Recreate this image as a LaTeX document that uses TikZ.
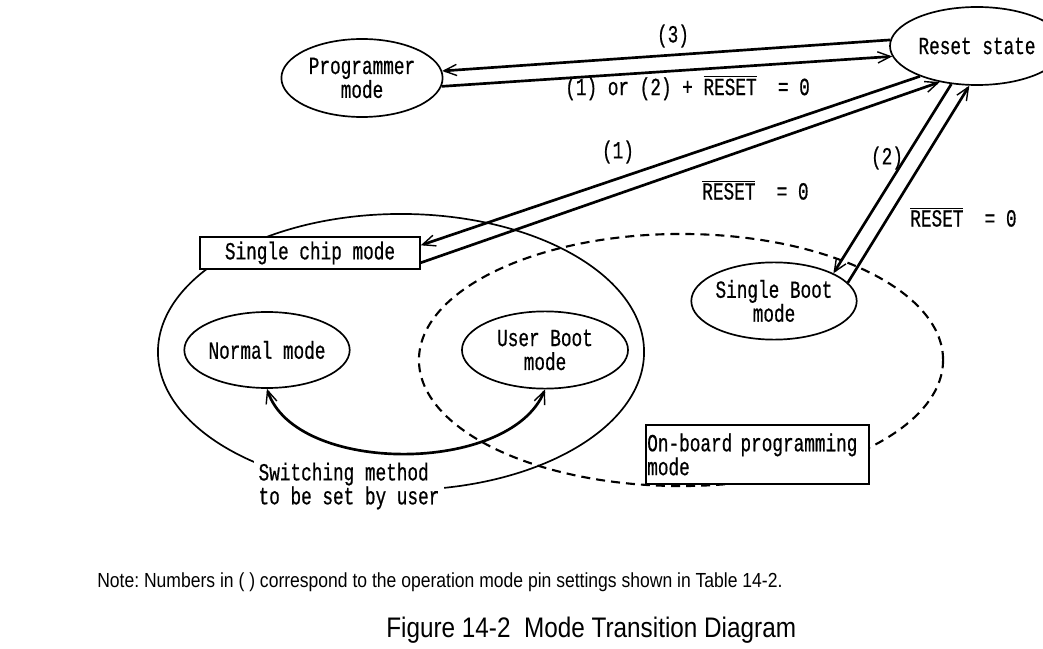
\documentclass[tikz,border=0pt]{standalone}
\usepackage{fontspec}
\setmainfont{Liberation Sans}
\newfontfamily\gothicfont[FakeStretch=0.72,FakeBold=0.6]{Liberation Mono}
\newfontfamily\narrowsans[FakeStretch=0.86]{Liberation Sans}
\usetikzlibrary{arrows.meta,shapes.geometric}
\newcommand\resetbar{$\overline{\hbox{RESET}}$}
\frenchspacing

\begin{document}
\begin{tikzpicture}[x=0.025cm,y=-0.025cm,>={Straight Barb[length=3.2mm,width=2.8mm,line width=1pt]},
  mode/.style={draw,ellipse,line width=1.2pt,inner sep=0pt,align=center,font=\gothicfont\fontsize{17.5}{17}\selectfont},
  zone/.style={draw,ellipse,inner sep=0pt},
  tag/.style={draw,fill=white,line width=1.2pt,inner sep=1pt,font=\gothicfont\fontsize{17.5}{17}\selectfont},
  lbl/.style={inner sep=0pt,font=\gothicfont\fontsize{17.5}{17}\selectfont},
  trans/.style={->,line width=1.9pt}]
\useasboundingbox (0,0) rectangle (1043,649);
% regions
\node[zone,line width=1.2pt,minimum width=12.15cm,minimum height=6.9cm] (md_chipzone) at (401,352) {};
\node[zone,line width=1.5pt,dash pattern=on 6.4pt off 4.3pt,minimum width=13.1cm,minimum height=6.3cm] (md_obzone) at (681,360) {};
\node[tag,minimum width=5.5cm,minimum height=0.8cm] (md_chip) at (310,253) {Single chip mode};
\node[tag,anchor=north west,minimum height=1.48cm,text width=5.5cm,align=left] (md_onboard) at (645,424) {On-board programming\\mode};
\node[lbl,fill=white,inner sep=3pt,align=left] (md_switch) at (349,486) {Switching method\\to be set by user};
% modes
\node[mode,minimum width=4.03cm,minimum height=1.95cm] (md_prog) at (362,78) {Programmer\\mode};
\node[mode,minimum width=4.35cm,minimum height=1.95cm] (md_reset) at (977,46) {Reset state};
\node[mode,minimum width=4.13cm,minimum height=1.9cm] (md_normal) at (267,350) {Normal mode};
\node[mode,minimum width=4.15cm,minimum height=1.93cm] (md_userboot) at (545,350) {User Boot\\mode};
\node[mode,minimum width=4.13cm,minimum height=1.93cm] (md_sboot) at (774,301) {Single Boot\\mode};
% transitions
\draw[trans] (md_reset.176) -- (md_prog.5);
\draw[trans] (md_prog.354) -- (md_reset.187);
\draw[trans] (md_reset.208) -- (md_chip.4);
\draw[trans] (md_chip.355) -- (md_reset.224);
\draw[trans] (md_reset.236) -- (md_sboot.25);
\draw[trans] (md_sboot.14) -- (md_reset.259);
\draw[trans,<->] (md_normal.south) .. controls (295,475) and (510,475) .. (md_userboot.south);
% labels
\node[lbl] (lb_three) at (673,36) {(3)};
\node[lbl,anchor=west] (lb_prog) at (565,88) {(1) or (2) + \resetbar\ \ = 0};
\node[lbl] (lb_one) at (618,152) {(1)};
\node[lbl,anchor=west] (lb_chip) at (702,190) {\resetbar\ \ = 0};
\node[lbl] (lb_two) at (887,158) {(2)};
\node[lbl,anchor=west] (lb_sboot) at (910,217) {\resetbar\ \ = 0};
% note and caption
\node[inner sep=0pt,anchor=west,font=\narrowsans\fontsize{14.5}{16}\selectfont] (tx_note) at (97,582) {Note: Numbers in ( ) correspond to the operation mode pin settings shown in Table 14-2.};
\node[inner sep=0pt,anchor=west,font=\narrowsans\fontsize{20.1}{22}\selectfont] (tx_caption) at (386,630) {Figure 14-2\ \ Mode Transition Diagram};
\end{tikzpicture}
\end{document}
